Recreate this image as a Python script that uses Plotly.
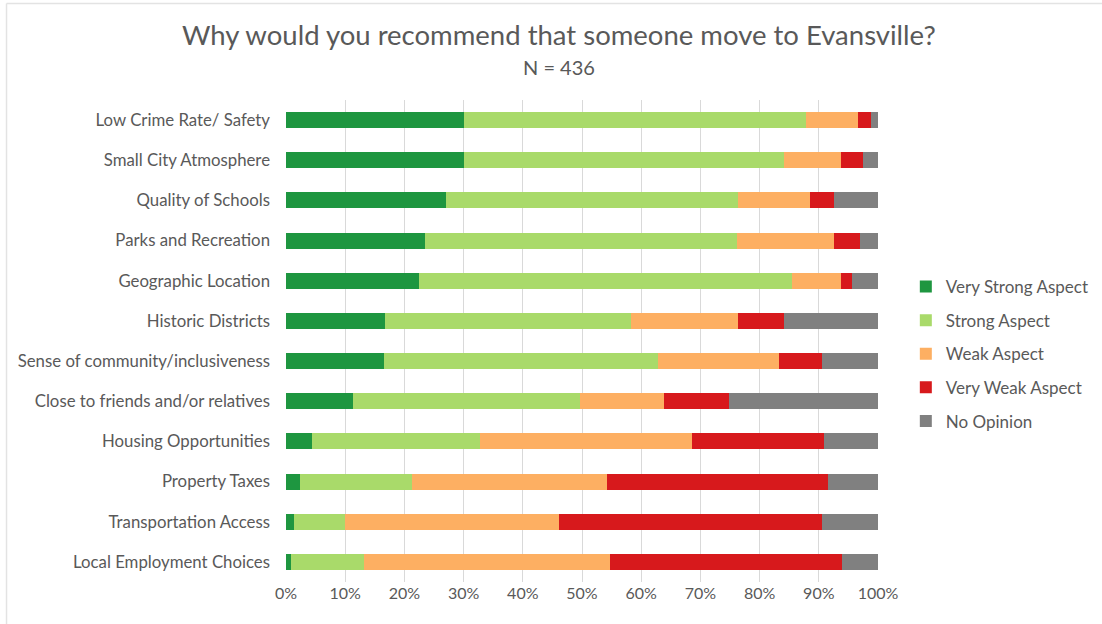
import plotly.graph_objects as go

# Survey categories, top to bottom
categories = [
    "Low Crime Rate/ Safety",
    "Small City Atmosphere",
    "Quality of Schools",
    "Parks and Recreation",
    "Geographic Location",
    "Historic Districts",
    "Sense of community/inclusiveness",
    "Close to friends and/or relatives",
    "Housing Opportunities",
    "Property Taxes",
    "Transportation Access",
    "Local Employment Choices",
]

# Share of respondents (%) per response level
very_strong = [30.1, 30.1, 27.1, 23.5, 22.5, 16.7, 16.6, 11.3, 4.4, 2.3, 1.4, 0.8]
strong      = [57.7, 54.0, 49.3, 52.7, 62.9, 41.5, 46.3, 38.4, 28.3, 18.9, 8.6, 12.4]
weak        = [8.8, 9.7, 12.1, 16.4, 8.4, 18.1, 20.3, 14.1, 35.8, 33.1, 36.1, 41.5]
very_weak   = [2.2, 3.7, 4.1, 4.4, 1.8, 7.8, 7.3, 11.1, 22.3, 37.3, 44.4, 39.3]
no_opinion  = [1.2, 2.5, 7.4, 3.0, 4.4, 15.9, 9.5, 25.1, 9.2, 8.4, 9.5, 6.0]

series = [
    ("Very Strong Aspect", very_strong, "#1E9640"),
    ("Strong Aspect", strong, "#A9DA6A"),
    ("Weak Aspect", weak, "#FDAF62"),
    ("Very Weak Aspect", very_weak, "#D7191C"),
    ("No Opinion", no_opinion, "#808080"),
]

title_text = "Why would you recommend that someone move to Evansville?"
subtitle_text = "N = 436"

FONT = "Lato"
TEXT = "#595959"

fig = go.Figure()
for name, vals, color in series:
    fig.add_trace(go.Bar(
        y=categories,
        x=[v / 100 for v in vals],
        name=name,
        legendgroup=name,
        orientation="h",
        marker=dict(color=color, line=dict(width=0)),
        hovertemplate="%{y}: %{x:.1%}<extra>" + name + "</extra>",
    ))

fig.update_layout(
    barmode="stack",
    bargap=0.6,
    width=1102,
    height=624,
    margin=dict(l=286, r=224, t=100, b=42, autoexpand=False),
    paper_bgcolor="white",
    plot_bgcolor="white",
    font=dict(family=FONT, color=TEXT, size=16),
    xaxis=dict(
        range=[0, 1],
        tickvals=[i / 10 for i in range(11)],
        tickformat=".0%",
        showgrid=True,
        gridcolor="#D9D9D9",
        gridwidth=1,
        zeroline=False,
        showline=False,
        tickfont=dict(size=16, color=TEXT),
        fixedrange=True,
    ),
    yaxis=dict(
        autorange="reversed",
        showgrid=False,
        showline=False,
        ticklabelstandoff=15,
        tickfont=dict(size=16.8, color=TEXT),
        fixedrange=True,
    ),
    legend=dict(
        x=1.047, xanchor="left",
        y=0.473, yanchor="middle",
        traceorder="grouped",
        tracegroupgap=8.5,
        font=dict(size=17, color=TEXT),
        itemwidth=30,
    ),
    showlegend=True,
)

# Title and sample size
fig.add_annotation(text=title_text, xref="paper", yref="paper",
                   x=0.461, y=1.1349, xanchor="center", yanchor="middle",
                   showarrow=False, font=dict(family=FONT, size=27.5, color=TEXT))
fig.add_annotation(text=subtitle_text, xref="paper", yref="paper",
                   x=0.461, y=1.0685, xanchor="center", yanchor="middle",
                   showarrow=False, font=dict(family=FONT, size=20, color=TEXT))

# Light frame along the top and left edges of the chart
frame = dict(type="line", xref="paper", yref="paper",
             line=dict(color="#E3E3E3", width=1.5))
fig.add_shape(**frame, x0=-0.4721, x1=-0.4721, y0=-0.2, y1=1.2002)
fig.add_shape(**frame, x0=-0.4721, x1=1.5, y0=1.2002, y1=1.2002)

fig.write_html("out.html")
